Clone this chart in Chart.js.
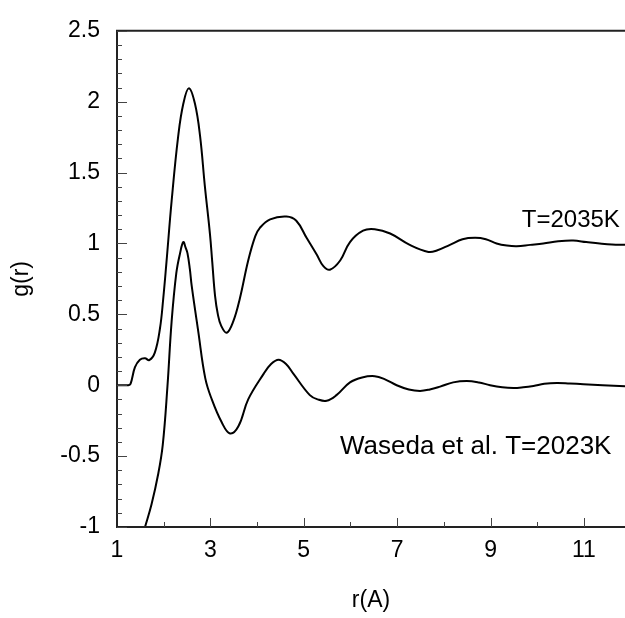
<!DOCTYPE html>
<html>
<head>
<meta charset="utf-8">
<script src="https://cdn.jsdelivr.net/npm/chart.js@4.4.0/dist/chart.umd.min.js"></script>
<style>
	body { margin: 0; background: #fff; }
	canvas { display: block; }
</style>
</head>
<body>
<canvas id="myChart" width="625" height="618"></canvas>
<script>
// T = 2035K curve
let rUpper = [1.0, 1.15, 1.24, 1.29, 1.385, 1.49, 1.60, 1.69, 1.81, 1.92, 1.99, 2.06, 2.17, 2.31, 2.42, 2.54, 2.67, 2.78, 2.88, 2.99, 3.04, 3.10, 3.16, 3.23, 3.35, 3.49, 3.63, 3.81, 3.96, 4.06, 4.28, 4.63, 4.84, 5.06, 5.28, 5.42, 5.56, 5.78, 5.99, 6.27, 6.52, 6.85, 7.27, 7.67, 7.85, 8.13, 8.40, 8.67, 8.90, 9.13, 9.35, 9.56, 9.85, 10.13, 10.45, 10.77, 11.05, 11.34, 11.60, 11.88]
let gUpper = [0, 0, 0, 0.01, 0.127, 0.18, 0.19, 0.177, 0.23, 0.40, 0.61, 0.87, 1.30, 1.755, 1.985, 2.095, 1.985, 1.755, 1.41, 1.07, 0.87, 0.63, 0.50, 0.42, 0.37, 0.45, 0.61, 0.88, 1.05, 1.11, 1.17, 1.19, 1.16, 1.04, 0.92, 0.84, 0.815, 0.88, 1.01, 1.09, 1.10, 1.07, 0.99, 0.94, 0.95, 0.99, 1.03, 1.04, 1.03, 1.00, 0.985, 0.98, 0.99, 1.00, 1.015, 1.02, 1.01, 1.00, 0.993, 0.99]

// Waseda et al. T = 2023K curve
let rLower = [1.60, 1.74, 1.88, 1.98, 2.08, 2.17, 2.27, 2.35, 2.42, 2.47, 2.51, 2.56, 2.60, 2.74, 2.89, 3.03, 3.24, 3.42, 3.60, 3.81, 4.14, 4.30, 4.46, 4.62, 4.78, 5.13, 5.30, 5.49, 5.70, 5.99, 6.25, 6.52, 6.75, 6.99, 7.25, 7.49, 7.70, 7.92, 8.20, 8.49, 8.75, 8.99, 9.25, 9.49, 9.70, 9.92, 10.15, 10.42, 10.70, 10.99, 11.40, 11.88]
let gLower = [-1.00, -0.84, -0.63, -0.42, -0.01, 0.45, 0.79, 0.93, 1.01, 0.97, 0.93, 0.82, 0.70, 0.38, 0.05, -0.10, -0.26, -0.34, -0.29, -0.10, 0.08, 0.15, 0.18, 0.15, 0.08, -0.07, -0.10, -0.11, -0.07, 0.02, 0.055, 0.064, 0.04, 0.0, -0.03, -0.04, -0.03, -0.01, 0.02, 0.03, 0.02, 0.0, -0.015, -0.02, -0.015, -0.005, 0.01, 0.016, 0.012, 0.007, 0.0, -0.007]

// Axis ticks
let xTicks = [1, 3, 5, 7, 9, 11]
let yTicks = [-1, -0.5, 0, 0.5, 1, 1.5, 2, 2.5]

// Curve labels: [text, r, g, font size]
let curveLabels = [
	["T=2035K", 11.77, 1.16, 24],
	["Waseda et al. T=2023K", 11.59, -0.435, 26],
]

function toPoints(xs, ys) {
	return xs.map((x, i) => ({x: x, y: ys[i]}))
}

let fontFamily = "'Liberation Sans', Arial, Helvetica, sans-serif"

// Frame, inward ticks and curve labels
let framePlugin = {
	id: "frame",
	afterDraw(chart) {
		let ctx = chart.ctx
		let area = chart.chartArea
		let xs = chart.scales.x
		let ys = chart.scales.y
		ctx.save()
		ctx.strokeStyle = "#222"
		ctx.lineWidth = 2
		ctx.beginPath()
		ctx.moveTo(area.right, area.top)
		ctx.lineTo(area.left, area.top)
		ctx.lineTo(area.left, area.bottom)
		ctx.lineTo(area.right, area.bottom)
		ctx.stroke()

		ctx.lineWidth = 1
		ctx.strokeStyle = "#444"
		ctx.beginPath()
		for (let i = -10; i <= 25; i++) {
			let py = Math.round(ys.getPixelForValue(i / 10)) + 0.5
			let len = (i % 5 == 0) ? 10 : 5
			ctx.moveTo(area.left, py)
			ctx.lineTo(area.left + len, py)
		}
		for (let v = 2; v <= 11; v++) {
			let px = Math.round(xs.getPixelForValue(v)) + 0.5
			let len = (v % 2 == 1) ? 9 : 5
			ctx.moveTo(px, area.bottom)
			ctx.lineTo(px, area.bottom - len)
		}
		ctx.stroke()

		ctx.fillStyle = "#000"
		ctx.textAlign = "right"
		ctx.textBaseline = "middle"
		curveLabels.forEach(function (lab) {
			ctx.font = `${lab[3]}px ${fontFamily}`
			ctx.fillText(lab[0], xs.getPixelForValue(lab[1]), ys.getPixelForValue(lab[2]))
		})
		ctx.restore()
	}
}

let ctx = document.getElementById("myChart").getContext("2d")

let config = {
	type: "scatter",
	data: {
		datasets: [
			{
				label: "T=2035K",
				data: toPoints(rUpper, gUpper),
				showLine: true,
				borderColor: "#000",
				borderWidth: 2,
				pointRadius: 0,
				tension: 0.4,
			},
			{
				label: "Waseda",
				data: toPoints(rLower, gLower),
				showLine: true,
				borderColor: "#000",
				borderWidth: 2,
				pointRadius: 0,
				tension: 0.4,
			},
		],
	},
	options: {
		responsive: false,
		animation: false,
		layout: {padding: {top: 18, right: 0, left: 0, bottom: 0}},
		plugins: {
			legend: {display: false},
			tooltip: {enabled: false},
		},
		scales: {
			x: {
				type: "linear",
				min: 1,
				max: 11.88,
				afterBuildTicks: function (scale) {
					scale.ticks = xTicks.map(v => ({value: v}))
				},
				afterFit: function (scale) {
					scale.height = 91
				},
				grid: {display: false, drawTicks: false},
				border: {display: false},
				ticks: {
					padding: 10,
					color: "#000",
					font: {size: 23, family: fontFamily},
					callback: v => String(v),
				},
				title: {
					display: true,
					text: "r(A)",
					color: "#000",
					font: {size: 23, family: fontFamily},
					padding: {top: 0, bottom: 4},
				},
			},
			y: {
				type: "linear",
				min: -1,
				max: 2.5,
				afterBuildTicks: function (scale) {
					scale.ticks = yTicks.map(v => ({value: v}))
				},
				afterFit: function (scale) {
					scale.width = 117
				},
				grid: {display: false, drawTicks: false},
				border: {display: false},
				ticks: {
					padding: 17,
					color: "#000",
					font: {size: 23, family: fontFamily},
					callback: v => String(v),
				},
				title: {
					display: true,
					text: "g(r)",
					color: "#000",
					font: {size: 23, family: fontFamily},
					padding: {top: 8, bottom: 0},
				},
			},
		},
	},
	plugins: [framePlugin],
}

let gofrChart = new Chart(ctx, config)
</script>
</body>
</html>
